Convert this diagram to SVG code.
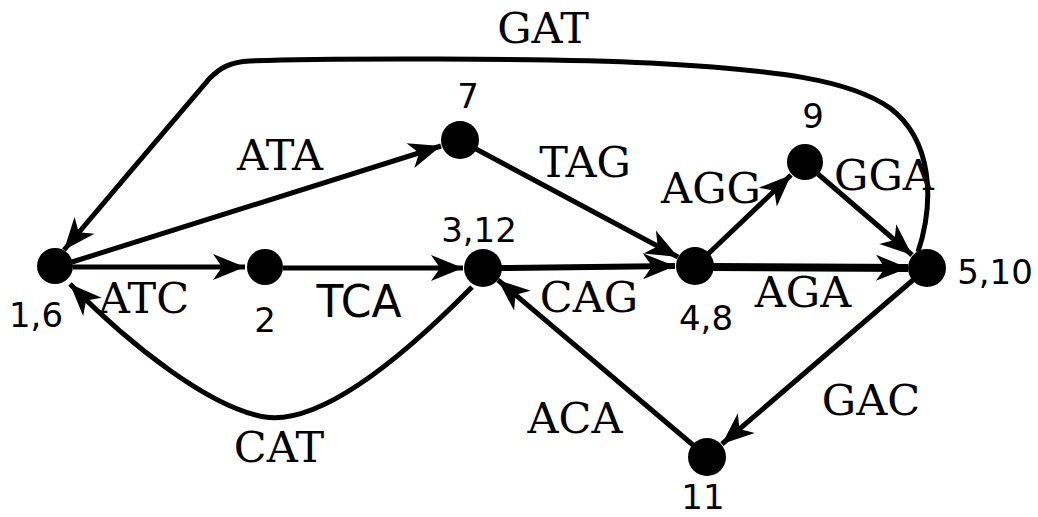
<svg xmlns="http://www.w3.org/2000/svg" width="1038" height="517" viewBox="0 0 1038 517">
  <style>
    .edge { fill: none; stroke: #000; stroke-width: 5; marker-end: url(#arr); }
    .node circle { fill: #000; }
    .nl { font-family: "DejaVu Sans", sans-serif; font-size: 34px; fill: #000; text-anchor: middle; }
    .el { font-family: "DejaVu Serif", serif; font-size: 43px; fill: #000; text-anchor: middle; }
    .els { font-family: "DejaVu Sans", sans-serif; font-size: 44px; fill: #000; text-anchor: middle; }
  </style>
  <defs>
    <marker id="arr" markerUnits="userSpaceOnUse" viewBox="-34 -15 36 30" refX="0" refY="0" markerWidth="36" markerHeight="30" orient="auto" overflow="visible">
      <path d="M0,0 L-32,-13 L-23,0 L-32,13 Z" fill="#000"/>
    </marker>
  </defs>
  <rect width="1038" height="517" fill="#fff"/>

  <g id="connectors">
    <path class="edge" d="M72,262 L441,146"/>
    <path class="edge" d="M73,267 L245,267"/>
    <path class="edge" d="M283,268 L463,268"/>
    <path class="edge" d="M476,149 L678,257"/>
    <path class="edge" style="stroke-width:6" d="M501,268 L675,266"/>
    <path class="edge" d="M708,254 L791,175"/>
    <path class="edge" d="M818,174 L912,255"/>
    <path class="edge" style="stroke-width:8" d="M713,267 L908,268"/>
    <path class="edge" d="M913,280 L722,444"/>
    <path class="edge" d="M693,445 L498,280"/>
    <path class="edge" d="M472,287 C400,360 320,425 265,417 C210,408 130,345 70,284"/>
    <path class="edge" d="M918,252 C935,200 932,140 890,108 C850,80 780,70 650,63 C550,58 320,58 250,61 C230,62 220,68 210,78 C170,125 110,195 64,250"/>
  </g>

  <g id="edge-labels">
    <text class="el" x="543" y="43">GAT</text>
    <text class="el" x="280" y="170">ATA</text>
    <text class="el" x="585" y="177">TAG</text>
    <text class="el" x="711" y="203">AGG</text>
    <text class="el" x="884" y="190">GGA</text>
    <text class="el" x="144" y="313">ATC</text>
    <text class="els" x="359" y="317">TCA</text>
    <text class="el" x="589" y="312">CAG</text>
    <text class="el" x="803" y="307">AGA</text>
    <text class="el" x="279" y="462">CAT</text>
    <text class="el" x="575" y="433">ACA</text>
    <text class="el" x="871" y="415">GAC</text>
  </g>

  <g id="n16" class="node"><circle cx="55" cy="266" r="18"/><text class="nl" x="36" y="327">1,6</text></g>
  <g id="n2" class="node"><circle cx="265" cy="267" r="18"/><text class="nl" x="265" y="332">2</text></g>
  <g id="n7" class="node"><circle cx="460" cy="140" r="19"/><text class="nl" x="468" y="108">7</text></g>
  <g id="n312" class="node"><circle cx="483" cy="268" r="19"/><text class="nl" x="479" y="242">3,12</text></g>
  <g id="n9" class="node"><circle cx="805" cy="162" r="18"/><text class="nl" x="813" y="128">9</text></g>
  <g id="n48" class="node"><circle cx="695" cy="266" r="19"/><text class="nl" x="706" y="330">4,8</text></g>
  <g id="n510" class="node"><circle cx="927" cy="268" r="19"/><text class="nl" x="995" y="284">5,10</text></g>
  <g id="n11" class="node"><circle cx="707" cy="457" r="19"/><text class="nl" x="703" y="509">11</text></g>
</svg>
